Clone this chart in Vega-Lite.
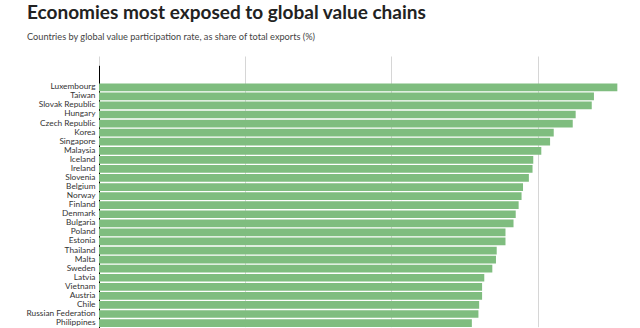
{
  "$schema": "https://vega.github.io/schema/vega-lite/v6.json",
  "autosize": {"type": "none"},
  "width": 541,
  "height": 264,
  "padding": {"top": 64, "left": 99, "right": 0, "bottom": 0},
  "background": "white",
  "title": {
    "text": "Economies most exposed to global value chains",
    "subtitle": "Countries by global value participation rate, as share of total exports (%)",
    "anchor": "start",
    "frame": "group",
    "dx": -72,
    "offset": 22,
    "font": "Lato",
    "fontSize": 19,
    "fontWeight": "bold",
    "color": "#222222",
    "subtitleFont": "Lato",
    "subtitleFontSize": 9.2,
    "subtitleColor": "#444444",
    "subtitlePadding": 10
  },
  "data": {
    "values": [
      {"country": "Luxembourg", "rate": 70.9},
      {"country": "Taiwan", "rate": 67.7},
      {"country": "Slovak Republic", "rate": 67.4},
      {"country": "Hungary", "rate": 65.2},
      {"country": "Czech Republic", "rate": 64.8},
      {"country": "Korea", "rate": 62.2},
      {"country": "Singapore", "rate": 61.7},
      {"country": "Malaysia", "rate": 60.5},
      {"country": "Iceland", "rate": 59.4},
      {"country": "Ireland", "rate": 59.3},
      {"country": "Slovenia", "rate": 58.8},
      {"country": "Belgium", "rate": 58.0},
      {"country": "Norway", "rate": 57.8},
      {"country": "Finland", "rate": 57.4},
      {"country": "Denmark", "rate": 57.0},
      {"country": "Bulgaria", "rate": 56.7},
      {"country": "Poland", "rate": 55.6},
      {"country": "Estonia", "rate": 55.6},
      {"country": "Thailand", "rate": 54.4},
      {"country": "Malta", "rate": 54.3},
      {"country": "Sweden", "rate": 53.8},
      {"country": "Latvia", "rate": 52.7},
      {"country": "Vietnam", "rate": 52.4},
      {"country": "Austria", "rate": 52.4},
      {"country": "Chile", "rate": 52.0},
      {"country": "Russian Federation", "rate": 51.9},
      {"country": "Philippines", "rate": 51.0},
      {"country": "Croatia", "rate": 50.8}
    ]
  },
  "mark": {"type": "bar", "color": "#7fbd7f", "clip": true},
  "encoding": {
    "y": {
      "field": "country",
      "type": "nominal",
      "sort": null,
      "title": null,
      "scale": {"range": [1.3, 272.0], "paddingInner": 0.15, "paddingOuter": 1, "align": 1},
      "axis": {
        "ticks": false,
        "labelFont": "Lato",
        "labelFontSize": 8.3,
        "labelColor": "#333333",
        "labelPadding": 4,
        "domainColor": "#000000",
        "domainWidth": 1
      }
    },
    "x": {
      "field": "rate",
      "type": "quantitative",
      "title": null,
      "scale": {"domain": [0, 74], "nice": false},
      "axis": {
        "values": [0, 20, 40, 60],
        "labels": false,
        "ticks": false,
        "domain": false,
        "grid": true,
        "gridColor": "#d6d6d6",
        "gridWidth": 1
      }
    }
  },
  "config": {"view": {"stroke": null}}
}
